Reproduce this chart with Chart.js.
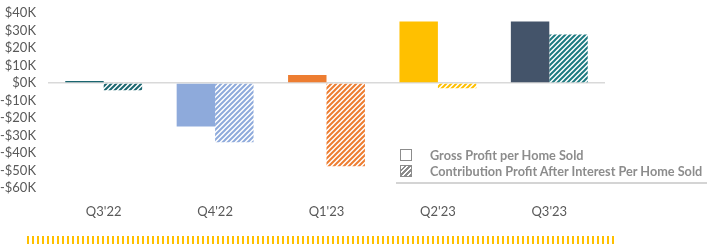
<!DOCTYPE html>
<html>

<head>
  <meta charset="utf-8">
  <title>Gross Profit vs Contribution Profit</title>
  <style>
    html, body {
      margin: 0;
      padding: 0;
      background: #ffffff;
    }

    .chart-container {
      position: relative;
      width: 716px;
      height: 252px;
    }

    #legend {
      position: absolute;
      left: 396px;
      top: 147px;
      width: 311px;
      border-bottom: 2px solid #d4d4d4;
      padding-bottom: 3px;
      font-family: Lato, "Open Sans", sans-serif;
      font-weight: bold;
      font-size: 12.7px;
      color: #8c8c8c;
      white-space: nowrap;
    }

    #legend .item {
      height: 16px;
      line-height: 16px;
      display: flex;
      align-items: center;
    }

    #legend .box {
      flex: none;
      width: 12px;
      height: 12px;
      margin-left: 4px;
      margin-right: 18px;
      border: 1px solid #8c8c8c;
      box-sizing: border-box;
      background: #ffffff;
    }

    #legend .box.hatch {
      background: repeating-linear-gradient(-45deg, #8c8c8c 0px, #8c8c8c 1.5px, #ffffff 1.5px, #ffffff 3.5px);
    }
  </style>
</head>

<body>
  <div class="chart-container">
    <canvas id="myChart" width="716" height="252"></canvas>
    <div id="legend"></div>
  </div>

  <script src="https://cdn.jsdelivr.net/npm/chart.js"></script>

  <script>

    // 資料定義區塊
    const labels = ["Q3'22", "Q4'22", "Q1'23", "Q2'23", "Q3'23"];
    const seriesNames = ['Gross Profit per Home Sold', 'Contribution Profit After Interest Per Home Sold'];
    const grossProfit = [1.2, -24.8, 4.6, 35.2, 35.2];          // $K
    const contributionProfit = [-4.2, -33.9, -47.5, -3.0, 27.7]; // $K

    // 樣式定義區塊
    const grossColors = ['#1b6670', '#8eaadb', '#ed7d31', '#ffc000', '#44546a'];
    const hatchColors = ['#1b6670', '#8eaadb', '#ed7d31', '#ffc000', '#1d7a80'];

    // 斜線填色
    function makeHatch(color) {
      const c = document.createElement('canvas');
      c.width = 5;
      c.height = 5;
      const g = c.getContext('2d');
      g.fillStyle = '#ffffff';
      g.fillRect(0, 0, 5, 5);
      g.strokeStyle = color;
      g.lineWidth = 2;
      g.beginPath();
      g.moveTo(-1, 6); g.lineTo(6, -1);
      g.moveTo(-1, 1); g.lineTo(1, -1);
      g.moveTo(4, 6); g.lineTo(6, 4);
      g.stroke();
      return g.createPattern(c, 'repeat');
    }

    const ctx = document.getElementById('myChart').getContext('2d');
    const hatchPatterns = hatchColors.map(makeHatch);

    // 底部黃色虛線裝飾
    const footerStrip = {
      id: 'footerStrip',
      afterDraw(chart) {
        const g = chart.ctx;
        g.save();
        g.strokeStyle = '#ffc000';
        g.lineWidth = 8;
        g.setLineDash([2, 3]);
        g.beginPath();
        g.moveTo(27, 240);
        g.lineTo(614, 240);
        g.stroke();
        g.restore();
      }
    };

    const data = {
      labels: labels,
      datasets: [{
        label: seriesNames[0],
        data: grossProfit,
        backgroundColor: grossColors,
        borderWidth: 0
      }, {
        label: seriesNames[1],
        data: contributionProfit,
        backgroundColor: hatchPatterns,
        borderWidth: 0
      }]
    };

    const tickFont = { family: 'Lato', size: 13 };

    const config = {
      type: 'bar',
      data: data,
      plugins: [footerStrip],
      options: {
        responsive: false,
        animation: false,
        categoryPercentage: 0.69,
        barPercentage: 1.0,
        layout: {
          padding: { top: 13, right: 111, bottom: 0, left: 0 }
        },
        plugins: {
          legend: { display: false },
          tooltip: { enabled: false }
        },
        scales: {
          x: {
            grid: { display: false, drawTicks: false },
            border: { display: false },
            ticks: {
              color: '#595959',
              font: tickFont,
              padding: 16
            },
            afterFit(scale) {
              scale.height = 64;
              scale.paddingLeft = 0;
              scale.paddingRight = 0;
            }
          },
          y: {
            min: -60,
            max: 40,
            grid: {
              drawTicks: false,
              color: (c) => c.tick && c.tick.value === 0 ? '#d9d9d9' : 'rgba(0,0,0,0)',
              lineWidth: 1.5
            },
            border: { display: false },
            ticks: {
              stepSize: 10,
              autoSkip: false,
              color: '#595959',
              font: tickFont,
              padding: 12,
              callback: (v) => (v < 0 ? '-$' + Math.abs(v) : '$' + v) + 'K'
            },
            afterFit(scale) {
              scale.width = 48;
              scale.paddingTop = 0;
              scale.paddingBottom = 0;
            }
          }
        }
      }
    };

    const myChart = new Chart(ctx, config);

    // 圖例
    const legendEl = document.getElementById('legend');
    seriesNames.forEach((name, i) => {
      const item = document.createElement('div');
      item.className = 'item';
      const box = document.createElement('span');
      box.className = i === 0 ? 'box' : 'box hatch';
      const text = document.createElement('span');
      text.textContent = name;
      item.appendChild(box);
      item.appendChild(text);
      legendEl.appendChild(item);
    });

  </script>

</body>

</html>
